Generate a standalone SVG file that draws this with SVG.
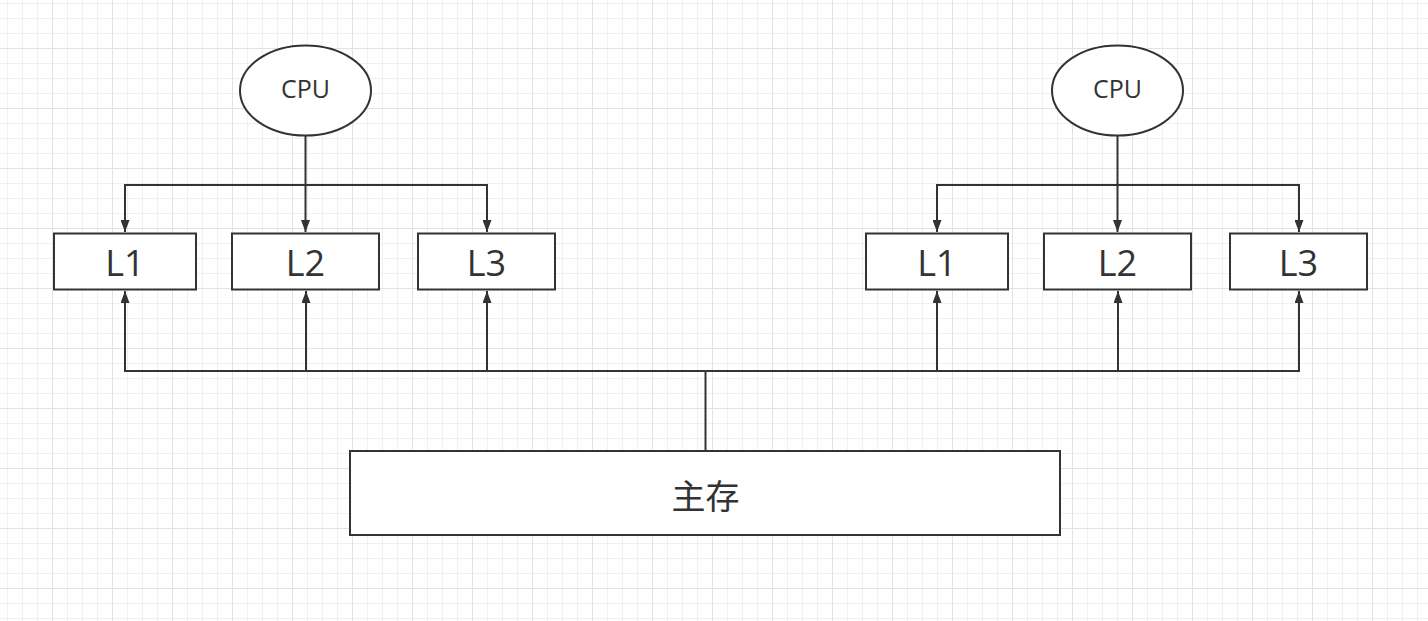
<svg xmlns="http://www.w3.org/2000/svg" width="1428" height="621" viewBox="0 0 1428 621">
<defs>
<pattern id="grid" x="7" y="3" width="60" height="60" patternUnits="userSpaceOnUse">
<path d="M0.5 0V60M15.5 0V60M30.5 0V60M0 0.5H60M0 15.5H60M0 30.5H60" stroke="#f0f0f0" stroke-width="1" fill="none"/>
<path d="M45.5 0V60M0 45.5H60" stroke="#e2e2e2" stroke-width="1" fill="none"/>
</pattern>
<marker id="arr" viewBox="0 0 12 9" refX="12" refY="4.5" markerWidth="12" markerHeight="9" markerUnits="userSpaceOnUse" orient="auto">
<path d="M0 0L12 4.5L0 9z" fill="#333333"/>
</marker>
</defs>
<style>
.box{fill:#ffffff;stroke:#333333;stroke-width:2}
.ln{fill:none;stroke:#333333;stroke-width:2}
.t{fill:#333333;font-family:"Open Sans","Noto Sans","Noto Sans CJK SC",sans-serif;text-anchor:middle;dominant-baseline:central}
.cpu{font-size:25px}
.lbl{font-size:36px}
.cjk{font-family:"Noto Sans CJK SC","Noto Sans",sans-serif;font-size:34px}
</style>
<rect width="1428" height="621" fill="#ffffff"/>
<rect width="1428" height="621" fill="url(#grid)"/>
<g id="connectors">
<path class="ln" d="M305.5 135V185"/>
<path class="ln" d="M305.5 185V232" marker-end="url(#arr)"/>
<path class="ln" d="M305.5 185H125V232" marker-end="url(#arr)"/>
<path class="ln" d="M305.5 185H487V232" marker-end="url(#arr)"/>
<path class="ln" d="M1117.5 135V185"/>
<path class="ln" d="M1117.5 185V232" marker-end="url(#arr)"/>
<path class="ln" d="M1117.5 185H937V232" marker-end="url(#arr)"/>
<path class="ln" d="M1117.5 185H1299V232" marker-end="url(#arr)"/>
<path class="ln" d="M705.5 451V371"/>
<path class="ln" d="M705.5 371H125V291" marker-end="url(#arr)"/>
<path class="ln" d="M306 371V291" marker-end="url(#arr)"/>
<path class="ln" d="M487 371V291" marker-end="url(#arr)"/>
<path class="ln" d="M705.5 371H1299V291" marker-end="url(#arr)"/>
<path class="ln" d="M937 371V291" marker-end="url(#arr)"/>
<path class="ln" d="M1118 371V291" marker-end="url(#arr)"/>
</g>
<g id="cpu-left">
<ellipse class="box" cx="305.5" cy="90.5" rx="65.5" ry="45"/>
<text class="t cpu" x="305.5" y="87.5">CPU</text>
</g>
<g id="cpu-right">
<ellipse class="box" cx="1117.5" cy="90.5" rx="65.5" ry="45"/>
<text class="t cpu" x="1117.5" y="87.5">CPU</text>
</g>
<g id="l1-left">
<rect class="box" x="54" y="233.5" width="142" height="56"/>
<text class="t lbl" x="125" y="262">L1</text>
</g>
<g id="l2-left">
<rect class="box" x="232" y="233.5" width="147" height="56"/>
<text class="t lbl" x="305.5" y="262">L2</text>
</g>
<g id="l3-left">
<rect class="box" x="418" y="233.5" width="137" height="56"/>
<text class="t lbl" x="486.5" y="262">L3</text>
</g>
<g id="l1-right">
<rect class="box" x="866" y="233.5" width="142" height="56"/>
<text class="t lbl" x="937" y="262">L1</text>
</g>
<g id="l2-right">
<rect class="box" x="1044" y="233.5" width="147" height="56"/>
<text class="t lbl" x="1117.5" y="262">L2</text>
</g>
<g id="l3-right">
<rect class="box" x="1230" y="233.5" width="137" height="56"/>
<text class="t lbl" x="1298.5" y="262">L3</text>
</g>
<g id="main-memory">
<rect class="box" x="350" y="451" width="710" height="84"/>
<text class="t cjk" x="705.5" y="494">主存</text>
</g>
</svg>
